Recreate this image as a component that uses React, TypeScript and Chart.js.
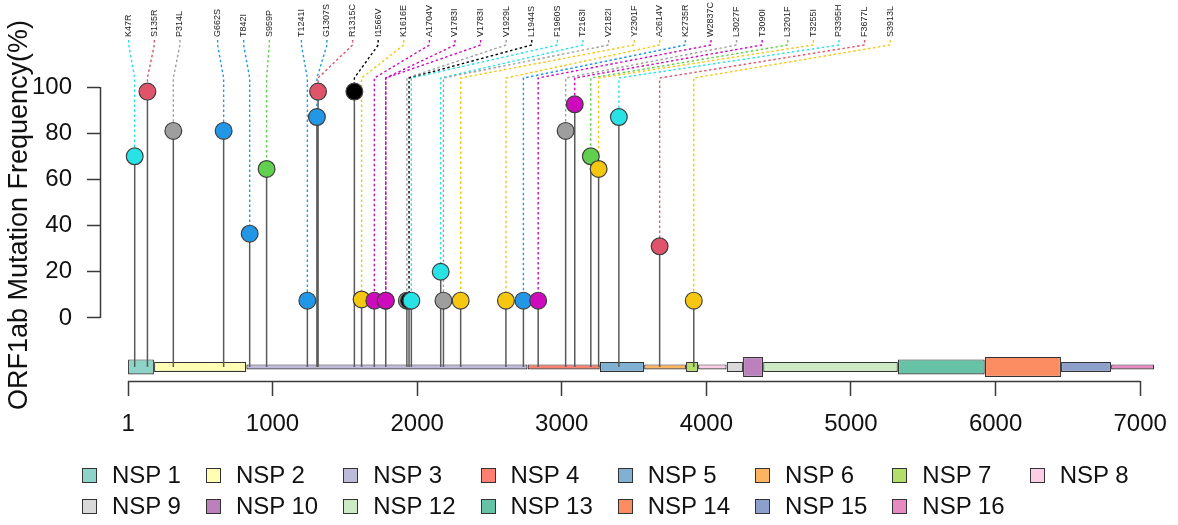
import React, { useEffect, useRef } from 'react';
import { Chart, registerables } from 'chart.js';

Chart.register(...registerables);

const FONT = '"Liberation Sans", Arial, Helvetica, sans-serif';

// R palette colours used for the lollipop heads
const RED = '#DF536B';
const GREEN = '#61D04F';
const BLUE = '#2297E6';
const CYAN = '#28E2E5';
const MAGENTA = '#CD0BBC';
const YELLOW = '#F5C710';
const GRAY = '#9E9E9E';
const BLACK = '#000000';

// ---- mutation data ----
const mutationLabels = [
  'K47R', 'S135R', 'P314L', 'G662S', 'T842I', 'S959P', 'T1241I', 'G1307S', 'R1315C', 'I1566V',
  'K1616E', 'A1704V', 'V1783I', 'V1783I', 'V1929L', 'L1944S', 'F1960S', 'T2163I', 'V2182I', 'Y2301F',
  'A2614V', 'K2735R', 'W2837C', 'L3027F', 'T3090I', 'L3201F', 'T3255I', 'P3395H', 'F3677L', 'S3913L',
];
const mutationPositions = [
  47, 135, 314, 662, 842, 959, 1241, 1307, 1315, 1566,
  1616, 1704, 1783, 1783, 1929, 1944, 1960, 2163, 2182, 2301,
  2614, 2735, 2837, 3027, 3090, 3201, 3255, 3395, 3677, 3913,
];
const mutationFrequencies = [
  70, 98, 81, 81, 36.5, 64.5, 7.5, 87, 98, 98,
  8, 7.5, 7.5, 7.5, 7.5, 7.5, 7.5, 20, 7.5, 7.5,
  7.5, 7.5, 7.5, 81, 92.5, 70, 64.5, 87, 31, 7.5,
];
const mutationColors = [
  CYAN, RED, GRAY, BLUE, BLUE, GREEN, BLUE, BLUE, RED, BLACK,
  YELLOW, MAGENTA, MAGENTA, MAGENTA, GRAY, BLACK, CYAN, CYAN, GRAY, YELLOW,
  YELLOW, BLUE, MAGENTA, GRAY, MAGENTA, GREEN, YELLOW, CYAN, RED, YELLOW,
];

// ---- domain data ----
const domainNames = [
  'NSP 1', 'NSP 2', 'NSP 3', 'NSP 4', 'NSP 5', 'NSP 6', 'NSP 7', 'NSP 8',
  'NSP 9', 'NSP 10', 'NSP 12', 'NSP 13', 'NSP 14', 'NSP 15', 'NSP 16',
];
const domainStarts = [1, 181, 819, 2764, 3264, 3570, 3860, 3943, 4141, 4254, 4393, 5325, 5926, 6453, 6799];
const domainEnds = [180, 818, 2763, 3263, 3569, 3859, 3942, 4140, 4253, 4392, 5324, 5925, 6452, 6798, 7096];

// styles for domains
const domainColors = [
  '#8DD3C7', '#FFFFB3', '#BEBADA', '#FB8072', '#80B1D3', '#FDB462', '#B3DE69', '#FCCDE5',
  '#D9D9D9', '#BC80BD', '#CCEBC5', '#66C2A5', '#FC8D62', '#8DA0CB', '#E78AC3',
];
const domainThickness = [15, 10, 5, 5, 10, 5, 10, 5, 10, 20, 10, 15, 20, 10, 5];

// ---- axis ticks ----
const xTicks = [1, 1000, 2000, 3000, 4000, 5000, 6000, 7000];
const yTicks = [0, 20, 40, 60, 80, 100];
const yTitle = 'ORF1ab Mutation Frequency(%)';

// layout constants
const X_MIN = -193;
const X_MAX = 7137;
const Y_MIN = -27.3;
const Y_MAX = 100;
const DOMAIN_Y = -21.2;
const POINT_R = 8.4;
const AXIS_COLOR = '#3a3a3a';

const decorPlugin = {
  id: 'lollipopDecor',
  beforeDatasetsDraw(chart: any) {
    const { ctx, chartArea } = chart;
    const x = chart.scales.x;
    const y = chart.scales.y;
    ctx.save();

    // axis lines (R style, only across tick range)
    ctx.strokeStyle = AXIS_COLOR;
    ctx.lineWidth = 1.5;
    ctx.beginPath();
    const ax = Math.round(chartArea.left) + 0.5;
    ctx.moveTo(ax, y.getPixelForValue(yTicks[0]));
    ctx.lineTo(ax, y.getPixelForValue(yTicks[yTicks.length - 1]));
    const ay = Math.round(chartArea.bottom) + 0.5;
    ctx.moveTo(x.getPixelForValue(xTicks[0]), ay);
    ctx.lineTo(x.getPixelForValue(xTicks[xTicks.length - 1]), ay);
    ctx.stroke();

    // label placement: keep labels apart, pushed rightwards
    const gap = 25.6;
    let prev = -Infinity;
    const labelX = mutationPositions.map((p) => {
      const d = x.getPixelForValue(p) - 6;
      const v = Math.max(d, prev + gap);
      prev = v;
      return v;
    });

    const labelBottom = chartArea.top - 50;
    const elbowTop = chartArea.top - 42;
    const elbowY = chartArea.top - 9;

    // connectors
    ctx.setLineDash([2.5, 2.5]);
    ctx.lineWidth = 1.4;
    mutationPositions.forEach((p, i) => {
      const px = x.getPixelForValue(p);
      const py = y.getPixelForValue(mutationFrequencies[i]) - POINT_R;
      ctx.strokeStyle = mutationColors[i];
      ctx.beginPath();
      ctx.moveTo(labelX[i], labelBottom + 3);
      ctx.lineTo(labelX[i], elbowTop);
      ctx.lineTo(px, elbowY);
      ctx.lineTo(px, py);
      ctx.stroke();
    });
    ctx.setLineDash([]);

    // mutation labels (rotated)
    ctx.fillStyle = '#222';
    ctx.font = `9px ${FONT}`;
    ctx.textAlign = 'left';
    ctx.textBaseline = 'middle';
    mutationLabels.forEach((t, i) => {
      ctx.save();
      ctx.translate(labelX[i], labelBottom);
      ctx.rotate(-Math.PI / 2);
      ctx.fillText(t, 0, 0);
      ctx.restore();
    });

    // y axis title
    ctx.fillStyle = '#111';
    ctx.font = `27px ${FONT}`;
    ctx.textAlign = 'center';
    ctx.textBaseline = 'middle';
    ctx.save();
    ctx.translate(20, 215);
    ctx.rotate(-Math.PI / 2);
    ctx.fillText(yTitle, 0, 0);
    ctx.restore();

    ctx.restore();
  },
};

export default function App() {
  const ref = useRef<HTMLCanvasElement>(null);

  useEffect(() => {
    const canvas = ref.current;
    if (!canvas) return;
    Chart.defaults.font.family = FONT;

    const stemData: any[] = [];
    mutationPositions.forEach((p, i) => {
      stemData.push({ x: p, y: DOMAIN_Y });
      stemData.push({ x: p, y: mutationFrequencies[i] });
      stemData.push({ x: p, y: null });
    });

    const domainDatasets = domainNames.map((n, i) => ({
      type: 'bar',
      label: n,
      indexAxis: 'y',
      data: [{ x: [domainStarts[i], domainEnds[i]], y: DOMAIN_Y }],
      backgroundColor: domainColors[i],
      borderColor: '#333333',
      borderWidth: 1.2,
      borderSkipped: false,
      grouped: false,
      maxBarThickness: domainThickness[i],
      order: 2,
      clip: false,
    }));

    const chart = new Chart(canvas, {
      type: 'scatter',
      data: {
        datasets: [
          {
            type: 'scatter',
            label: 'mutations',
            data: mutationPositions.map((p, i) => ({ x: p, y: mutationFrequencies[i] })),
            pointRadius: POINT_R,
            pointHoverRadius: POINT_R,
            pointBackgroundColor: mutationColors,
            pointBorderColor: '#3d3d3d',
            pointBorderWidth: 1.2,
            order: 0,
            clip: false,
          },
          {
            type: 'line',
            label: 'stems',
            data: stemData,
            borderColor: '#5a5a5a',
            borderWidth: 1.5,
            pointRadius: 0,
            spanGaps: false,
            fill: false,
            order: 1,
            clip: false,
          },
          ...domainDatasets,
        ] as any,
      },
      options: {
        responsive: false,
        animation: false,
        devicePixelRatio: 1,
        events: [],
        layout: { padding: { left: 0, top: 87, right: 18, bottom: 84 } },
        plugins: {
          legend: { display: false },
          tooltip: { enabled: false },
        },
        scales: {
          x: {
            type: 'linear',
            min: X_MIN,
            max: X_MAX,
            offset: false,
            afterBuildTicks: (s: any) => {
              s.ticks = xTicks.map((v) => ({ value: v }));
            },
            afterFit: (s: any) => {
              s.height = 60;
              s.paddingLeft = 0;
              s.paddingRight = 0;
              s.paddingTop = 0;
              s.paddingBottom = 0;
            },
            grid: {
              display: true,
              offset: false,
              drawOnChartArea: false,
              drawTicks: true,
              tickLength: 15,
              tickWidth: 1.5,
              tickColor: AXIS_COLOR,
            },
            border: { display: false },
            ticks: {
              font: { size: 24, family: FONT },
              color: '#111',
              padding: 14,
              maxRotation: 0,
              autoSkip: false,
              callback: (v: any) => String(v),
            },
          },
          y: {
            type: 'linear',
            min: Y_MIN,
            max: Y_MAX,
            offset: false,
            afterBuildTicks: (s: any) => {
              s.ticks = yTicks.map((v) => ({ value: v }));
            },
            afterFit: (s: any) => {
              s.width = 100;
              s.paddingLeft = 0;
              s.paddingRight = 0;
              s.paddingTop = 0;
              s.paddingBottom = 0;
            },
            grid: {
              display: true,
              offset: false,
              drawOnChartArea: false,
              drawTicks: true,
              tickLength: 13,
              tickWidth: 1.5,
              tickColor: AXIS_COLOR,
            },
            border: { display: false },
            ticks: {
              font: { size: 24, family: FONT },
              color: '#111',
              padding: 15,
              autoSkip: false,
              callback: (v: any) => String(v),
            },
          },
        },
      } as any,
      plugins: [decorPlugin],
    });

    return () => chart.destroy();
  }, []);

  return (
    <div
      style={{
        position: 'absolute',
        left: 0,
        top: 0,
        width: 1178,
        height: 525,
        background: '#ffffff',
        fontFamily: FONT,
        overflow: 'hidden',
      }}
    >
      <canvas
        ref={ref}
        width={1178}
        height={525}
        style={{ position: 'absolute', left: 0, top: 0, width: 1178, height: 525 }}
      />
      <div
        style={{
          position: 'absolute',
          left: 82,
          top: 461,
          display: 'grid',
          gridTemplateColumns: 'repeat(8, auto)',
          columnGap: 25,
          rowGap: 3,
        }}
      >
        {domainNames.map((n, i) => (
          <div
            key={n}
            style={{
              display: 'flex',
              alignItems: 'center',
              height: 28,
              fontSize: 24,
              lineHeight: '28px',
              color: '#111',
              whiteSpace: 'nowrap',
            }}
          >
            <span
              style={{
                display: 'inline-block',
                boxSizing: 'border-box',
                width: 15,
                height: 15,
                border: '1.3px solid #333',
                background: domainColors[i],
                marginRight: 15,
              }}
            />
            {n}
          </div>
        ))}
      </div>
    </div>
  );
}
